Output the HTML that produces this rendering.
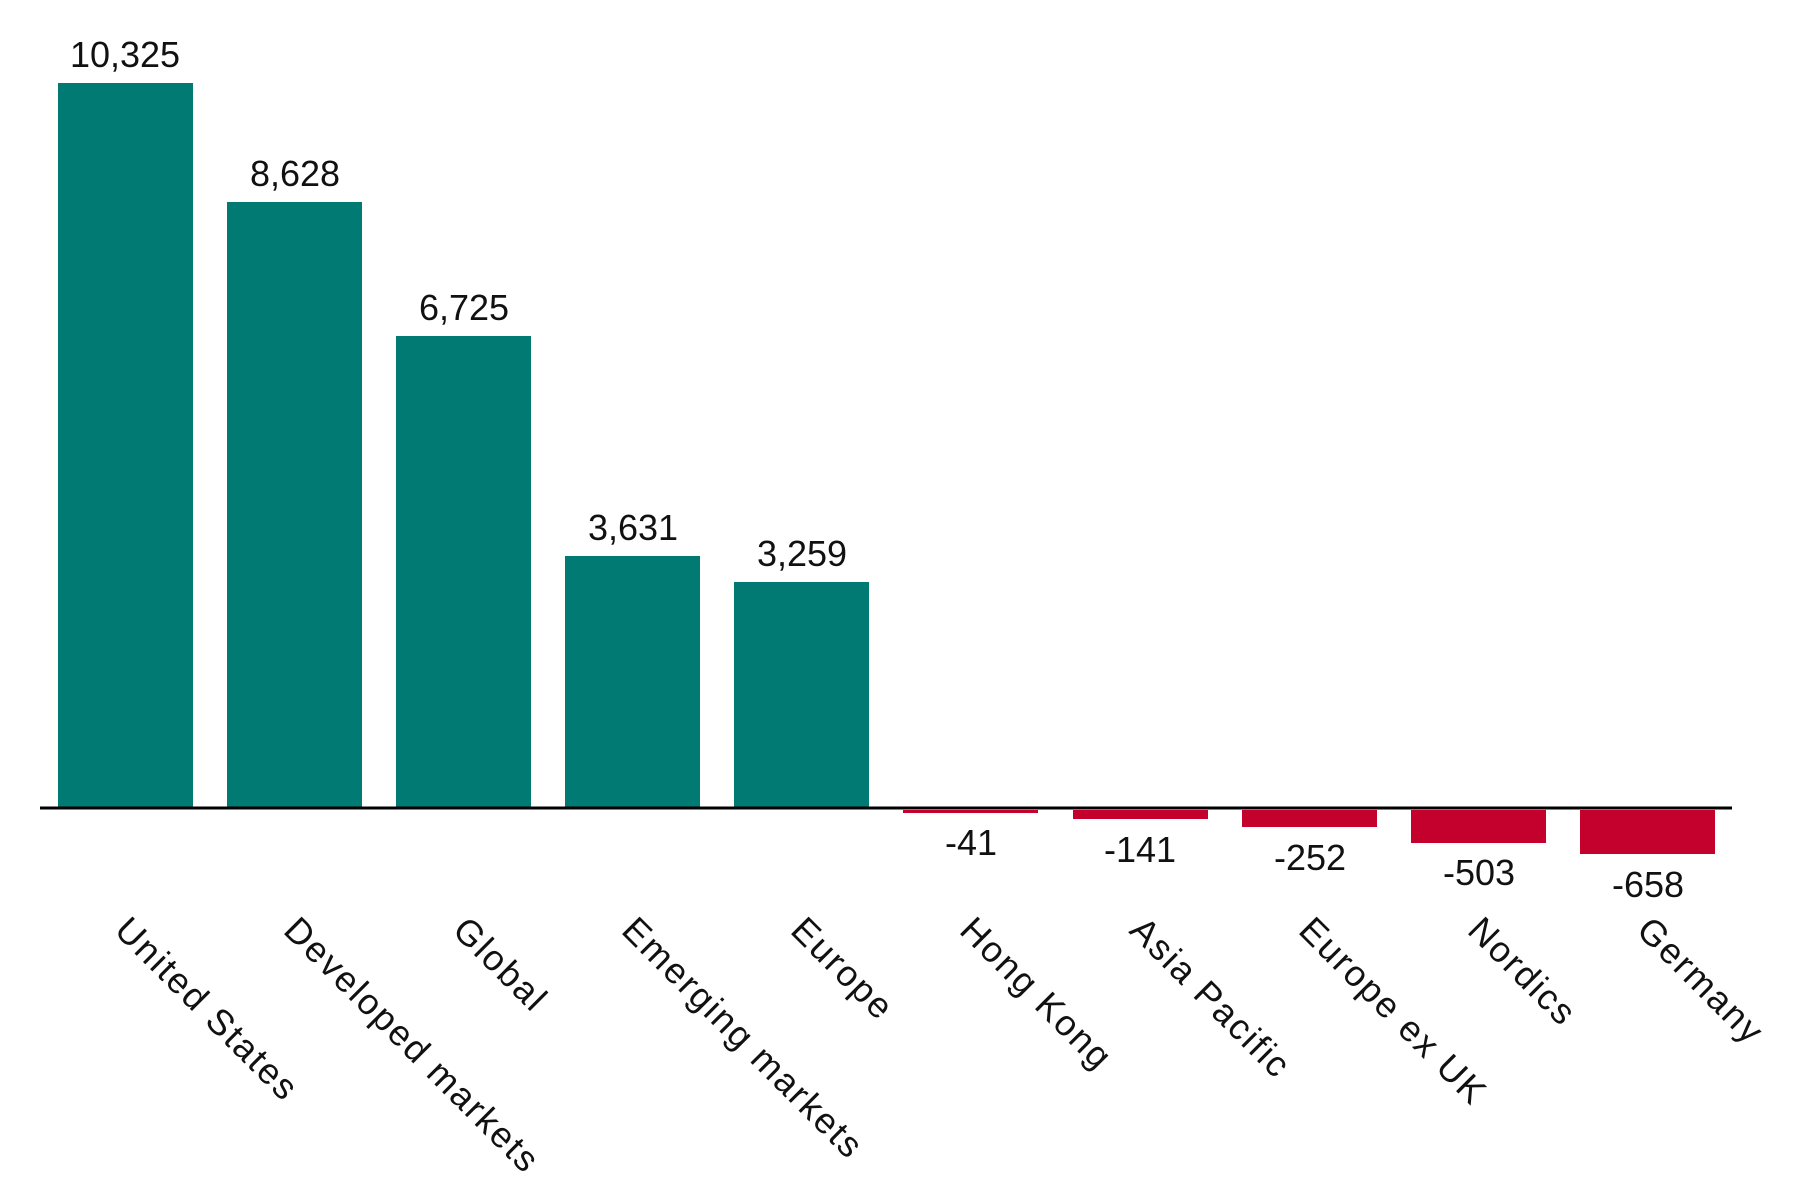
<!DOCTYPE html>
<html><head><meta charset="utf-8"><style>
html,body{margin:0;padding:0;background:#fff;}
svg{display:block;}
text{font-family:"Liberation Sans",sans-serif;fill:#111;font-size:36px;}
</style></head><body>
<svg width="1800" height="1200" viewBox="0 0 1800 1200" xmlns="http://www.w3.org/2000/svg">
<g fill="#007A73">
<rect x="58" y="83" width="135" height="726"/>
<rect x="227" y="202" width="135" height="607"/>
<rect x="396" y="336" width="135" height="473"/>
<rect x="565" y="556" width="135" height="253"/>
<rect x="734" y="582" width="135" height="227"/>
</g>
<g fill="#C4002D">
<rect x="903" y="810" width="135" height="3"/>
<rect x="1073" y="810" width="135" height="9"/>
<rect x="1242" y="810" width="135" height="17"/>
<rect x="1411" y="810" width="135" height="33"/>
<rect x="1580" y="810" width="135" height="44"/>
</g>
<line x1="40" y1="808" x2="1732" y2="808" stroke="#000" stroke-width="3"/>
<g text-anchor="middle">
<text x="125" y="67">10,325</text>
<text x="295" y="186">8,628</text>
<text x="464" y="320">6,725</text>
<text x="633" y="540">3,631</text>
<text x="802" y="566">3,259</text>
<text x="971" y="855">-41</text>
<text x="1140" y="862">-141</text>
<text x="1310" y="870">-252</text>
<text x="1479" y="885">-503</text>
<text x="1648" y="897">-658</text>
</g>
<g letter-spacing="2">
<text transform="translate(113,932) rotate(45)">United States</text>
<text transform="translate(282,932) rotate(45)">Developed markets</text>
<text transform="translate(451,932) rotate(45)">Global</text>
<text transform="translate(620,932) rotate(45)">Emerging markets</text>
<text transform="translate(789,932) rotate(45)">Europe</text>
<text transform="translate(958,932) rotate(45)">Hong Kong</text>
<text transform="translate(1128,932) rotate(45)">Asia Pacific</text>
<text transform="translate(1297,932) rotate(45)">Europe ex UK</text>
<text transform="translate(1466,932) rotate(45)">Nordics</text>
<text transform="translate(1635,932) rotate(45)">Germany</text>
</g>
</svg>
</body></html>
